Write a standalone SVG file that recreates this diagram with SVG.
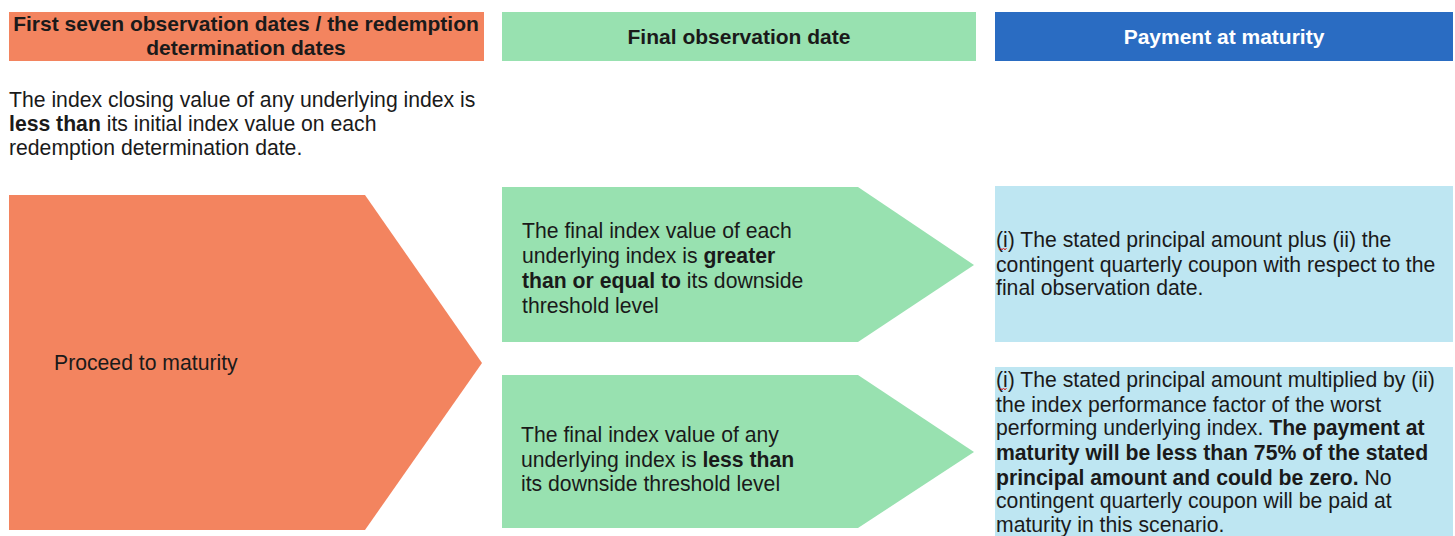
<svg xmlns="http://www.w3.org/2000/svg" width="1455" height="536" viewBox="0 0 1455 536">
<style>
text{font-family:"Liberation Sans",Arial,sans-serif;fill:#1a1a1a}
.h{font-size:21px;font-weight:bold}
.t{font-size:21.2px}
.b{font-weight:bold}
.orange{fill:#F3845F}
.green{fill:#98E1B0}
.blue{fill:#2A6CC2}
.lblue{fill:#BEE6F2}
</style>
<rect width="1455" height="536" fill="#ffffff"/>
<g id="header-first">
<rect class="orange" x="9" y="12" width="475" height="49"/>
<text class="h" x="246" y="31" text-anchor="middle">First seven observation dates / the redemption</text>
<text class="h" x="246" y="55" text-anchor="middle">determination dates</text>
</g>
<g id="header-final">
<rect class="green" x="502" y="12" width="474" height="49"/>
<text class="h" x="739" y="44" text-anchor="middle">Final observation date</text>
</g>
<g id="header-payment">
<rect class="blue" x="995" y="12" width="458" height="49"/>
<text class="h" x="1224" y="44" text-anchor="middle" style="fill:#ffffff">Payment at maturity</text>
</g>
<g id="condition-text">
<text class="t" x="9" y="107">The index closing value of any underlying index is</text>
<text class="t" x="9" y="131"><tspan class="b">less than</tspan> its initial index value on each</text>
<text class="t" x="9" y="155">redemption determination date.</text>
</g>
<g id="proceed">
<polygon class="orange" points="9,195 365,195 482,363 365,530 9,530"/>
<text class="t" x="54" y="370">Proceed to maturity</text>
</g>
<g id="final-greater">
<polygon class="green" points="502,187 858,187 974,265 858,342 502,342"/>
<text class="t" x="522" y="238">The final index value of each</text>
<text class="t" x="522" y="263">underlying index is <tspan class="b">greater</tspan></text>
<text class="t" x="522" y="288"><tspan class="b">than or equal to</tspan> its downside</text>
<text class="t" x="522" y="313">threshold level</text>
</g>
<g id="final-less">
<polygon class="green" points="502,375 858,375 974,452 858,528 502,528"/>
<text class="t" x="521" y="442">The final index value of any</text>
<text class="t" x="521" y="467">underlying index is <tspan class="b">less than</tspan></text>
<text class="t" x="521" y="491">its downside threshold level</text>
</g>
<g id="payment-full">
<rect class="lblue" x="995" y="186" width="458" height="156"/>
<text class="t" x="996" y="247">(i) The stated principal amount plus (ii) the</text>
<text class="t" x="996" y="272">contingent quarterly coupon with respect to the</text>
<text class="t" x="996" y="295">final observation date.</text>
<path d="M999,250 l1.5,-2 l1.5,2 l1.5,-2 l1.5,2 l1.5,-2" fill="none" stroke="#d03030" stroke-width="1"/>
</g>
<g id="payment-loss">
<rect class="lblue" x="995" y="367" width="458" height="169"/>
<text class="t" x="996" y="387">(i) The stated principal amount multiplied by (ii)</text>
<text class="t" x="996" y="412">the index performance factor of the worst</text>
<text class="t" x="996" y="435">performing underlying index. <tspan class="b">The payment at</tspan></text>
<text class="t b" x="996" y="460">maturity will be less than 75% of the stated</text>
<text class="t" x="996" y="485"><tspan class="b">principal amount and could be zero.</tspan> No</text>
<text class="t" x="996" y="508">contingent quarterly coupon will be paid at</text>
<text class="t" x="996" y="532">maturity in this scenario.</text>
<path d="M999,390 l1.5,-2 l1.5,2 l1.5,-2 l1.5,2 l1.5,-2" fill="none" stroke="#d03030" stroke-width="1"/>
</g>
<g id="connectors"></g>
</svg>
